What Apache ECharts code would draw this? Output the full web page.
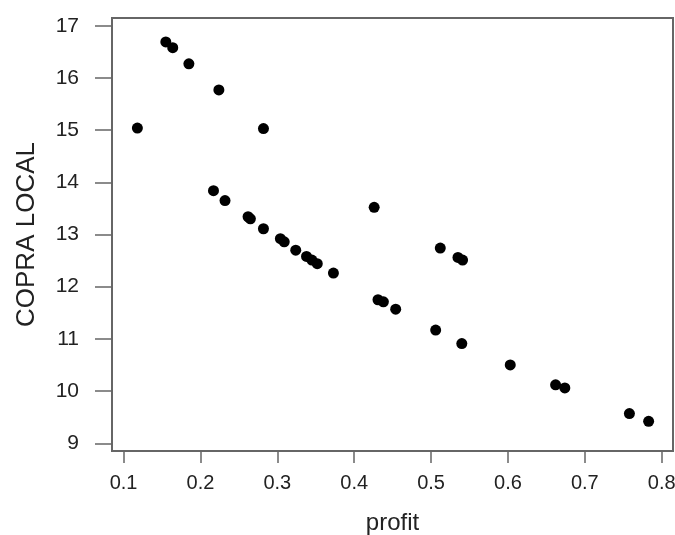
<!DOCTYPE html>
<html>
<head>
<meta charset="utf-8">
<script src="https://cdn.jsdelivr.net/npm/echarts@6/dist/echarts.min.js"></script>
<style>
  html, body { margin: 0; padding: 0; background: #fff; }
  #main { width: 675px; height: 535px; }
</style>
</head>
<body>
<div id="main"></div>
<script>
// profit vs COPRA LOCAL
var profit = [0.118, 0.155, 0.164, 0.185, 0.224, 0.282, 0.217, 0.232, 0.262, 0.265,
  0.282, 0.304, 0.309, 0.324, 0.338, 0.345, 0.352, 0.373, 0.426, 0.512,
  0.535, 0.541, 0.431, 0.438, 0.454, 0.506, 0.540, 0.603, 0.662, 0.674,
  0.758, 0.783];
var copra = [15.04, 16.69, 16.58, 16.27, 15.77, 15.03, 13.84, 13.65, 13.34, 13.30,
  13.11, 12.92, 12.86, 12.70, 12.58, 12.51, 12.44, 12.26, 13.52, 12.74,
  12.56, 12.51, 11.75, 11.71, 11.57, 11.17, 10.91, 10.50, 10.12, 10.06,
  9.57, 9.42];
var xTicks = [0.1, 0.2, 0.3, 0.4, 0.5, 0.6, 0.7, 0.8];
var yTicks = [9, 10, 11, 12, 13, 14, 15, 16, 17];

var points = [];
for (var i = 0; i < profit.length; i++) {
  points.push([profit[i], copra[i]]);
}

var chart = echarts.init(document.getElementById('main'));
var txt = '#222';
var lineCol = '#666';

chart.setOption({
  animation: false,
  grid: {
    left: 112, top: 18, right: 2, bottom: 84,
    outerBoundsMode: 'none',
    containLabel: false,
    show: true, borderColor: lineCol, borderWidth: 2
  },
  xAxis: {
    type: 'value',
    min: 0.085, max: 0.8147,
    name: 'profit',
    nameLocation: 'middle',
    nameGap: 60,
    nameTextStyle: { fontFamily: 'Liberation Sans', fontSize: 24, color: txt },
    axisLine: { show: true, lineStyle: { color: lineCol, width: 2 } },
    axisTick: { show: true, length: 12, lineStyle: { color: lineCol, width: 1.5 },
      customValues: xTicks },
    axisLabel: {
      fontFamily: 'Liberation Sans', fontSize: 20, color: txt, margin: 22,
      customValues: xTicks,
      formatter: function (v) { return v.toFixed(1); }
    },
    splitLine: { show: false }
  },
  yAxis: {
    type: 'value',
    min: 8.852, max: 17.148,
    name: 'COPRA LOCAL',
    nameLocation: 'middle',
    nameRotate: 90,
    nameGap: 72,
    nameTextStyle: { fontFamily: 'Liberation Sans', fontSize: 26, color: txt },
    axisLine: { show: true, lineStyle: { color: lineCol, width: 2 } },
    axisTick: { show: true, length: 17, lineStyle: { color: lineCol, width: 1.5 },
      customValues: yTicks },
    axisLabel: {
      fontFamily: 'Liberation Sans', fontSize: 21, color: txt, margin: 33,
      customValues: yTicks
    },
    splitLine: { show: false }
  },
  series: [{
    type: 'scatter',
    data: points,
    symbol: 'circle',
    symbolSize: 11,
    itemStyle: { color: '#000', opacity: 1 }
  }]
});
</script>
</body>
</html>
